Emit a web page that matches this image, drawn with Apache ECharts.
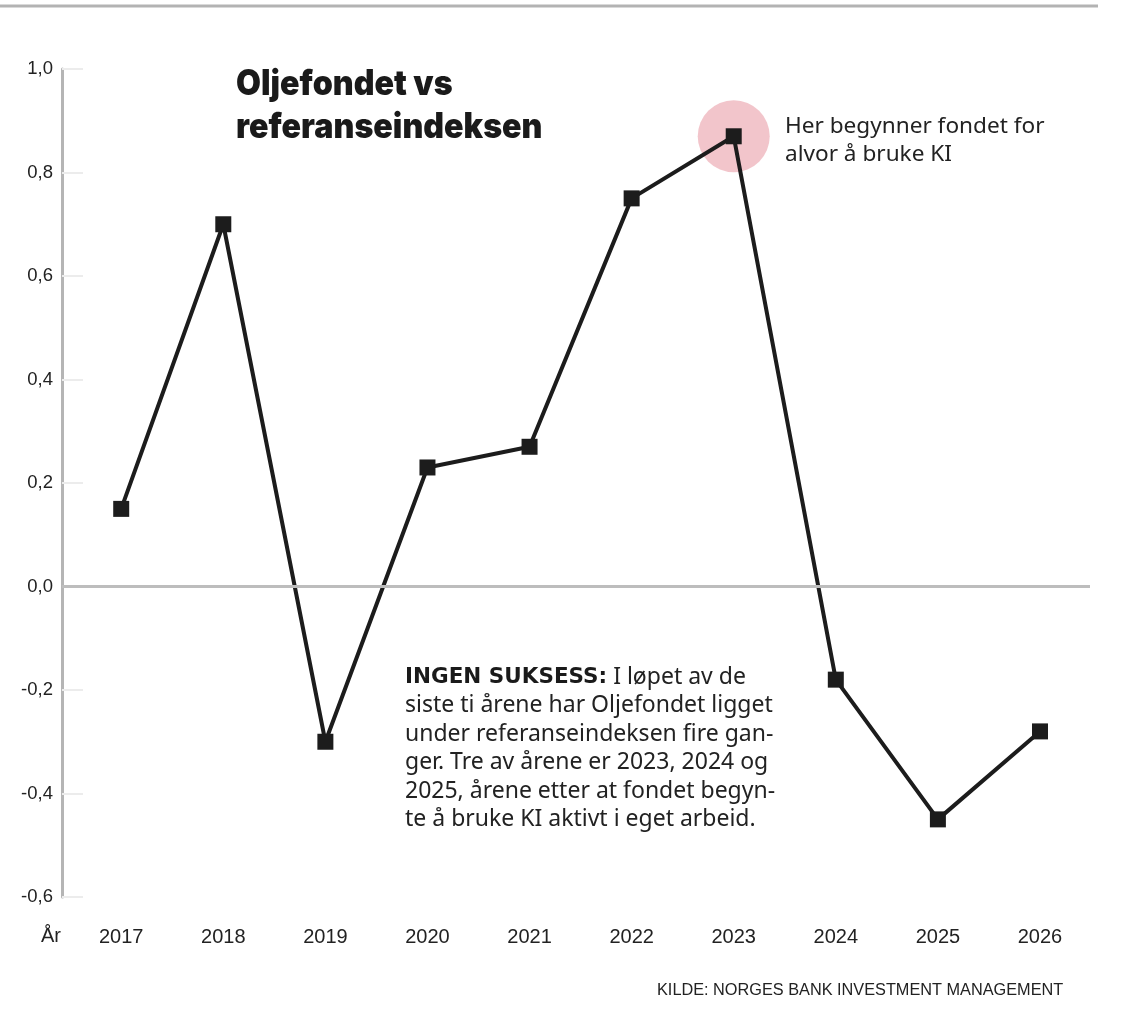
<!DOCTYPE html>
<html>
<head>
<meta charset="utf-8">
<script src="https://cdn.jsdelivr.net/npm/echarts@6/dist/echarts.min.js"></script>
<style>html,body{margin:0;padding:0;background:#fff}#c{width:1145px;height:1031px}</style>
</head>
<body>
<div id="c"></div>
<script>
const years = [2017, 2018, 2019, 2020, 2021, 2022, 2023, 2024, 2025, 2026];
const values = [0.15, 0.70, -0.30, 0.23, 0.27, 0.75, 0.87, -0.18, -0.45, -0.28];
const highlightYear = 2023;
const highlightValue = 0.87;

const FONT = '"Liberation Sans", Roboto, sans-serif';
const BODY = '"Noto Sans", "Open Sans", sans-serif';
const chart = echarts.init(document.getElementById('c'), null, {renderer: 'canvas'});
chart.setOption({
  backgroundColor: '#fff',
  animation: false,
  grid: {left: 62, right: 55, top: 69, bottom: 134},
  xAxis: {
    type: 'value', min: 2016.42, max: 2026.49,
    axisLine: {show: false}, axisTick: {show: false}, splitLine: {show: false},
    axisLabel: {customValues: years, formatter: v => String(v), fontSize: 20, color: '#222', margin: 30, fontFamily: FONT}
  },
  yAxis: {
    type: 'value', min: -0.6, max: 1.0, interval: 0.2,
    axisLine: {show: true, lineStyle: {color: '#b5b5b5', width: 3}},
    axisTick: {show: true, inside: true, length: 21, lineStyle: {color: '#ececec', width: 2}},
    splitLine: {show: false},
    axisLabel: {formatter: v => v.toFixed(1).replace('.', ','), fontSize: 18.5, color: '#222', margin: 9, fontFamily: FONT, padding: [0,0,7,0]}
  },
  series: [
    {
      type: 'line', data: [], z: 1, silent: true,
      markLine: {silent: true, symbol: 'none', label: {show: false},
        lineStyle: {color: '#bdbdbd', width: 3, type: 'solid'}, data: [{yAxis: 0}]}
    },
    {
      type: 'scatter', z: 2, silent: true,
      data: [[highlightYear, highlightValue]],
      symbol: 'circle', symbolSize: 72,
      itemStyle: {color: 'rgba(218,95,110,0.45)'}
    },
    {
      type: 'line', z: 3,
      data: years.map((y, i) => [y, values[i]]),
      symbol: 'rect', symbolSize: 16,
      lineStyle: {color: '#1c1c1c', width: 4},
      itemStyle: {color: '#1c1c1c'}
    }
  ],
  graphic: [
    {type: 'rect', shape: {x: 0, y: 4.5, width: 1098, height: 3}, style: {fill: '#b3b3b3'}},
    {type: 'text', x: 236, y: 63, scaleX: 0.92, style: {text: 'Oljefondet vs\nreferanseindeksen', font: '900 35px Inter, Roboto, sans-serif', fill: '#1a1a1a', lineHeight: 43}},
    {type: 'text', left: 785, top: 112, style: {text: 'Her begynner fondet for\nalvor å bruke KI', font: '22.6px ' + BODY, fill: '#222', lineHeight: 28.5}},
    {type: 'text', left: 405, top: 663, style: {
      text: '{b|INGEN SUKSESS:} I løpet av de\nsiste ti årene har Oljefondet ligget\nunder referanseindeksen fire gan-\nger. Tre av årene er 2023, 2024 og\n2025, årene etter at fondet begyn-\nte å bruke KI aktivt i eget arbeid.',
      font: '23px ' + BODY, fill: '#222', lineHeight: 28.5,
      rich: {b: {font: 'bold 21.5px "DejaVu Sans", sans-serif', fill: '#1a1a1a', lineHeight: 28.5}}
    }},
    {type: 'text', left: 41, top: 926, style: {text: 'År', font: '20px ' + FONT, fill: '#222'}},
    {type: 'text', left: 657, top: 983, style: {text: 'KILDE: NORGES BANK INVESTMENT MANAGEMENT', font: '16.3px ' + FONT, fill: '#222'}}
  ]
});
</script>
</body>
</html>
